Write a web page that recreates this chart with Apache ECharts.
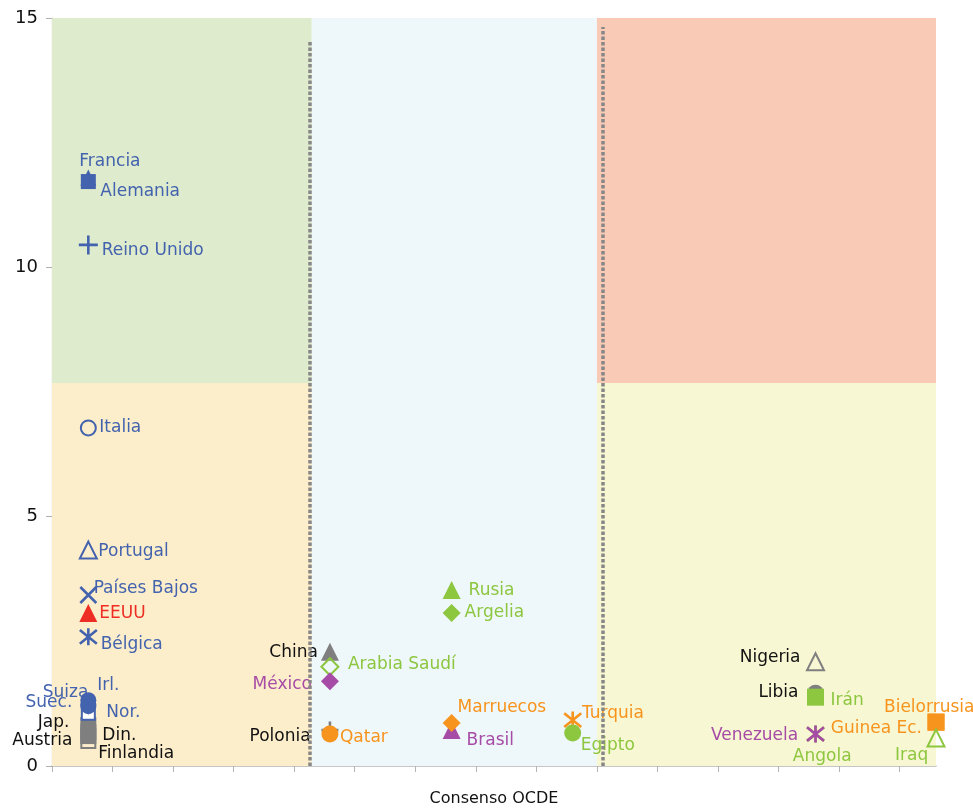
<!DOCTYPE html>
<html>
<head>
<meta charset="utf-8">
<script src="https://cdn.jsdelivr.net/npm/echarts@6/dist/echarts.min.js"></script>
<style>
  html, body { margin: 0; padding: 0; background: #fff; }
  #chart { width: 973px; height: 808px; }
</style>
</head>
<body>
<div id="chart"></div>
<script>
// data (drawing order matters: later points sit on top)
const countries = [
  "Francia", "Alemania", "Reino Unido", "Italia", "Portugal", "Países Bajos", "EEUU", "Bélgica",
  "Jap.", "Din.", "Austria", "Finlandia", "Nor.", "Suec.", "Suiza", "Irl.",
  "China", "Arabia Saudí", "México", "Polonia", "Qatar",
  "Rusia", "Argelia", "Brasil", "Marruecos", "Turquia", "Egipto",
  "Nigeria", "Libia", "Irán", "Angola", "Venezuela", "Guinea Ec.", "Bielorrusia", "Iraq"
];
const xValues = [
  0.6, 0.6, 0.6, 0.6, 0.6, 0.6, 0.6, 0.6,
  0.6, 0.6, 0.6, 0.6, 0.6, 0.6, 0.6, 0.6,
  4.59, 4.59, 4.59, 4.59, 4.59,
  6.6, 6.6, 6.6, 6.6, 8.6, 8.6,
  12.61, 12.61, 12.61, 12.61, 12.61, 14.6, 14.6, 14.6
];
const yValues = [
  11.8, 11.72, 10.45, 6.78, 4.33, 3.43, 3.07, 2.59,
  0.82, 0.68, 0.60, 0.50, 1.06, 1.20, 1.24, 1.32,
  2.29, 1.99, 1.70, 0.72, 0.64,
  3.53, 3.07, 0.72, 0.86, 0.92, 0.66,
  2.09, 1.46, 1.38, 0.64, 0.64, 0.88, 0.88, 0.56
];
const yTicks = [0, 5, 10, 15];
const xTicks = [0, 1, 2, 3, 4, 5, 6, 7, 8, 9, 10, 11, 12, 13, 14];

// zones: [x0, x1, y0, y1, colour]
const zones = [
  [0, 4.29, 7.68, 15, "#dfebcd"],
  [0, 4.29, 0, 7.68, "#fdeecb"],
  [4.29, 9.0, 0, 15, "#eef7fa"],
  [9.0, 14.6, 7.68, 15, "#f9cbb6"],
  [9.0, 14.6, 0, 7.68, "#f8f7d3"]
];
const dividers = [[4.26, 14.52], [9.09, 14.82]];

const BLUE = "#4363ae", RED = "#ee2e24", GREEN = "#8dc63f", ORANGE = "#f7941d",
  PURPLE = "#a64ca6", GRAY = "#7f7f80", BLACK = "#111";

const PLUS = "path://M5,0V10M0,5H10";
const CROSS = "path://M0,0L10,10M10,0L0,10";
const STAR = "path://M1,1L9,9M9,1L1,9M5,0V10";
const ENV = "path://M0,0H10V10H0ZM0,0L5,5L10,0";

// symbol, colour, open?, size, label side, gap from centre to text edge, dy, label colour
const styles = {
  "Francia":      ["triangle", BLUE, false, 16, "right", -9, -16, BLUE],
  "Alemania":     ["rect", BLUE, false, 15, "right", 12, 10, BLUE],
  "Reino Unido":  [PLUS, BLUE, "stroke", 19, "right", 12, 6, BLUE],
  "Italia":       ["circle", BLUE, true, 15, "right", 10, 0, BLUE],
  "Portugal":     ["triangle", BLUE, true, 17, "right", 9, 2, BLUE],
  "Países Bajos": [CROSS, BLUE, "stroke", 16, "right", 4, -6, BLUE],
  "EEUU":         ["triangle", RED, false, 18, "right", 11, 1, RED],
  "Bélgica":      [STAR, BLUE, "stroke", 17, "right", 11, 8, BLUE],
  "Jap.":         ["rect", GRAY, false, 16, "left", 19, -3, BLACK],
  "Din.":         ["rect", GRAY, false, 16, "right", 14, 3, BLACK],
  "Austria":      ["rect", GRAY, false, 16, "left", 16, 4, BLACK],
  "Finlandia":    ["rect", GRAY, true, 14, "right", 9, 13, BLACK],
  "Nor.":         [ENV, BLUE, "env", 13, "right", 17, -1, BLUE],
  "Suec.":        ["circle", BLUE, false, 16, "left", 16, -4, BLUE],
  "Suiza":        ["circle", BLUE, false, 16, "left", 0, -12, BLUE],
  "Irl.":         ["circle", BLUE, false, 16, "right", 9, -15, BLUE],
  "China":        ["triangle", GRAY, false, 18, "left", 12, 1, BLACK],
  "Arabia Saudí": ["diamond", GREEN, true, 17, "right", 17, -2, GREEN],
  "México":       ["diamond", PURPLE, false, 18, "left", 18, 3, PURPLE],
  "Polonia":      [PLUS, GRAY, "stroke", 17, "left", 18, 6, BLACK],
  "Qatar":        ["circle", ORANGE, false, 17, "right", 10, 3, ORANGE],
  "Rusia":        ["triangle", GREEN, false, 18, "right", 17, 1, GREEN],
  "Argelia":      ["diamond", GREEN, false, 18, "right", 13, 0, GREEN],
  "Brasil":       ["triangle", PURPLE, false, 18, "right", 15, 10, PURPLE],
  "Marruecos":    ["diamond", ORANGE, false, 18, "right", 6, -16, ORANGE],
  "Turquia":      [STAR, ORANGE, "stroke", 17, "right", 8, -7, ORANGE],
  "Egipto":       ["circle", GREEN, false, 17, "right", 8, 12, GREEN],
  "Nigeria":      ["triangle", GRAY, true, 17, "left", 14, -4, BLACK],
  "Libia":        ["circle", GRAY, false, 17, "left", 17, -1, BLACK],
  "Irán":         ["rect", GREEN, false, 17, "right", 15, 3, GREEN],
  "Angola":       [STAR, GREEN, "stroke", 17, "right", -24, 22, GREEN],
  "Venezuela":    [STAR, PURPLE, "stroke", 17, "left", 16, 1, PURPLE],
  "Guinea Ec.":   ["rect", ORANGE, false, 17, "left", 14, 6, ORANGE],
  "Bielorrusia":  ["rect", ORANGE, false, 17, "right", -52, -15, ORANGE],
  "Iraq":         ["triangle", GREEN, true, 17, "right", -42, 18, GREEN]
};

const points = countries.map((name, i) => {
  const s = styles[name];
  let itemStyle;
  if (s[2] === "stroke") {
    itemStyle = { color: "rgba(0,0,0,0)", borderColor: s[1], borderWidth: 2.6, opacity: 1 };
  } else if (s[2] === "env") {
    itemStyle = { color: "#fff", borderColor: s[1], borderWidth: 2, opacity: 1 };
  } else if (s[2]) {
    itemStyle = { color: "rgba(255,255,255,0)", borderColor: s[1], borderWidth: 2, opacity: 1 };
  } else {
    itemStyle = { color: s[1], opacity: 1 };
  }
  const half = s[3] / 2;
  const dx = s[4] === "right" ? s[5] - half : half - s[5];
  return {
    name: name,
    value: [xValues[i], yValues[i]],
    symbol: s[0],
    symbolSize: s[3],
    itemStyle: itemStyle,
    label: {
      show: true,
      position: s[4],
      distance: 0,
      offset: [dx, s[6]],
      color: s[7]
    }
  };
});

const chart = echarts.init(document.getElementById("chart"), null, { renderer: "canvas" });

const option = {
  animation: false,
  textStyle: { fontFamily: "DejaVu Sans" },
  grid: { left: 52, right: 37, top: 18, bottom: 42, outerBoundsMode: "none" },
  xAxis: {
    type: "value",
    min: 0,
    max: 14.6,
    name: "Consenso OCDE",
    nameLocation: "middle",
    nameGap: 25,
    nameTextStyle: { fontSize: 16, color: "#111", fontFamily: "DejaVu Sans" },
    axisLine: { show: true, lineStyle: { color: "#b4b4b4", width: 1.5 } },
    axisTick: { show: true, length: 6, customValues: xTicks, lineStyle: { color: "#b4b4b4" } },
    axisLabel: { show: false },
    splitLine: { show: false }
  },
  yAxis: {
    type: "value",
    min: 0,
    max: 15,
    interval: 5,
    axisLine: { show: true, lineStyle: { color: "#b0b49a", width: 1.2 } },
    axisTick: { show: true, length: 6, lineStyle: { color: "#b0b0b0" } },
    axisLabel: {
      color: "#111",
      fontSize: 18,
      margin: 14,
      fontFamily: "DejaVu Sans",
      formatter: (v) => (yTicks.indexOf(v) >= 0 ? String(v) : "")
    },
    splitLine: { show: false }
  },
  series: [
    {
      type: "scatter",
      data: [],
      z: 1,
      silent: true,
      markArea: {
        silent: true,
        data: zones.map((z) => [
          { coord: [z[0], z[2]], itemStyle: { color: z[4], opacity: 1 } },
          { coord: [z[1], z[3]] }
        ])
      },
      markLine: {
        silent: true,
        symbol: "none",
        label: { show: false },
        lineStyle: { color: "#878787", width: 3.5, type: [3.5, 2], opacity: 1 },
        data: dividers.map((d) => [{ coord: [d[0], 0] }, { coord: [d[0], d[1]] }])
      }
    },
    {
      type: "scatter",
      z: 3,
      clip: false,
      data: points,
      label: {
        show: true,
        fontSize: 17,
        fontFamily: "DejaVu Sans",
        formatter: (p) => p.name
      },
      emphasis: { disabled: true }
    }
  ]
};

chart.setOption(option);
</script>
</body>
</html>
